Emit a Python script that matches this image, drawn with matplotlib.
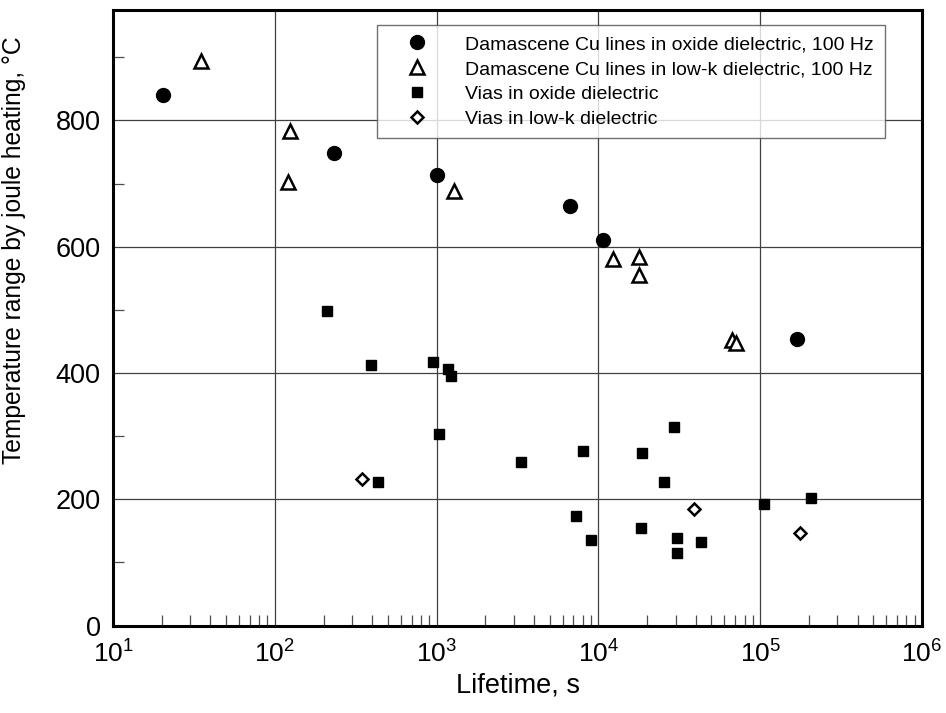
import matplotlib
matplotlib.use("Agg")
import matplotlib.pyplot as plt
from matplotlib.ticker import LogLocator, MultipleLocator, FixedLocator, FixedFormatter, NullFormatter

plt.rcParams['font.family'] = ['Liberation Sans', 'DejaVu Sans']
plt.rcParams['mathtext.fontset'] = 'custom'
plt.rcParams['mathtext.rm'] = 'Liberation Sans'
plt.rcParams['mathtext.it'] = 'Liberation Sans:italic'
plt.rcParams['mathtext.bf'] = 'Liberation Sans:bold'

# ---- data ----
oxide_lines_x = [20.4, 232, 1009, 6670, 10700, 168000]
oxide_lines_y = [841, 748, 713, 664, 610, 454]

lowk_lines_x = [34.8, 124, 121, 1282, 12300, 17800, 17800, 67300, 70800]
lowk_lines_y = [895, 784, 702, 689, 581, 584, 556, 453, 448]

vias_oxide_x = [209, 393, 955, 1180, 1222, 1040, 437, 3330, 8070, 7280, 9000,
                18500, 29300, 25500, 18300, 30500, 30500, 42900, 106000, 206000]
vias_oxide_y = [498, 413, 418, 407, 396, 304, 228, 259, 277, 174, 135,
                274, 315, 228, 155, 139, 115, 133, 192, 202]

vias_lowk_x = [344, 39200, 175000]
vias_lowk_y = [232, 185, 146]

labels = ["Damascene Cu lines in oxide dielectric, 100 Hz",
          "Damascene Cu lines in low-k dielectric, 100 Hz",
          "Vias in oxide dielectric",
          "Vias in low-k dielectric"]

x_decades = [1, 2, 3, 4, 5, 6]
y_ticks = [0, 200, 400, 600, 800]

# ---- figure ----
fig = plt.figure(figsize=(9.46, 7.13), dpi=100)
ax = fig.add_axes([113/946, 1 - 625.5/713, (922-113)/946, (625.5-10)/713])

ax.plot(oxide_lines_x, oxide_lines_y, linestyle='none', marker='o', ms=10,
        mfc='black', mec='black', label=labels[0], zorder=3)
ax.plot(lowk_lines_x, lowk_lines_y, linestyle='none', marker='^', ms=9.8,
        mfc='white', mec='black', mew=1.8, label=labels[1], zorder=3)
ax.plot(vias_oxide_x, vias_oxide_y, linestyle='none', marker='s', ms=7.9,
        mfc='black', mec='black', label=labels[2], zorder=3)
ax.plot(vias_lowk_x, vias_lowk_y, linestyle='none', marker='D', ms=6.3,
        mfc='white', mec='black', mew=1.8, label=labels[3], zorder=3)

ax.set_xscale('log')
ax.set_xlim(10, 1e6)
ax.set_ylim(0, 975)

ax.xaxis.set_major_locator(FixedLocator([10.0**d for d in x_decades]))
ax.xaxis.set_major_formatter(FixedFormatter([r'$\mathregular{10^{%d}}$' % d for d in x_decades]))
ax.xaxis.set_minor_locator(LogLocator(base=10, subs=range(2, 10), numticks=20))
ax.xaxis.set_minor_formatter(NullFormatter())

ax.yaxis.set_major_locator(FixedLocator(y_ticks))
ax.yaxis.set_minor_locator(MultipleLocator(100))

ax.grid(True, which='major', color='0.25', linewidth=0.9, zorder=1)
ax.set_axisbelow(True)

ax.tick_params(which='both', direction='in', top=False, right=False, color='0.3')
ax.tick_params(which='major', length=0, width=0.9)
ax.tick_params(which='minor', length=8, width=0.9)
ax.tick_params(axis='x', which='major', labelsize=19, pad=11)
ax.tick_params(axis='y', which='major', labelsize=19.5, pad=9)

for s in ax.spines.values():
    s.set_linewidth(2.2)
    s.set_color('black')
    s.set_zorder(4)

ax.set_xlabel('Lifetime, s', fontsize=19.5, labelpad=3)
ax.set_ylabel('Temperature range by joule heating, \u00b0C', fontsize=17.7)
ax.yaxis.set_label_coords(-0.108, 0.61)

leg = ax.legend(loc='upper left', bbox_to_anchor=(377/946, 1 - 25/713),
                bbox_transform=fig.transFigure, fontsize=14, frameon=True,
                fancybox=False, borderpad=0.55, handlelength=3.0,
                handletextpad=0.98, labelspacing=0.37, borderaxespad=0,
                numpoints=1)
leg.get_frame().set_edgecolor('0.3')
leg.get_frame().set_linewidth(1.0)
leg.set_zorder(5)

fig.savefig('out.png', dpi=100)
